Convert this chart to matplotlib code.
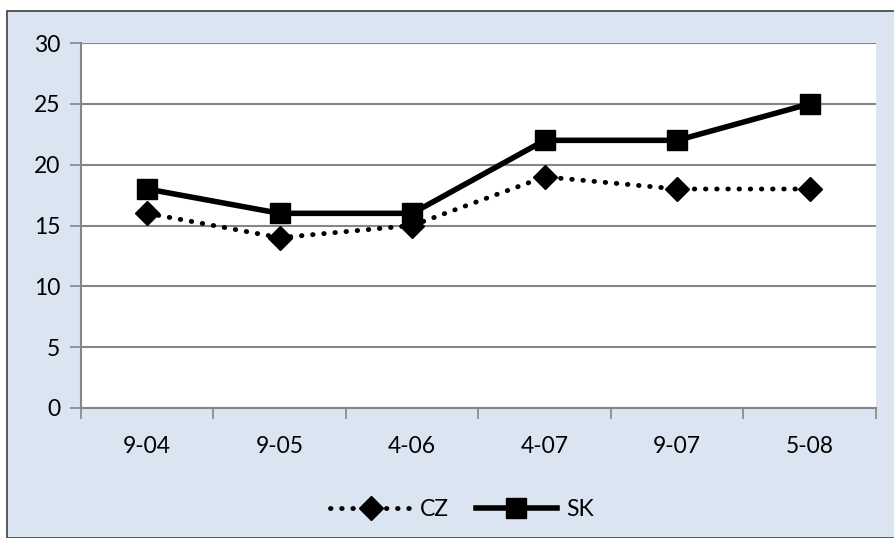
import matplotlib.pyplot as plt
from matplotlib.patches import Rectangle

periods = ['9-04', '9-05', '4-06', '4-07', '9-07', '5-08']
cz = [16, 14, 15, 19, 18, 18]
sk = [18, 16, 16, 22, 22, 25]

plt.rcParams['font.family'] = ['Lato', 'DejaVu Sans']

fig = plt.figure(figsize=(8.95, 5.38), dpi=100)
fig.patch.set_facecolor('white')
# light blue chart area with a dark frame
frame = Rectangle((7 / 895, 0), 1, 1 - 11 / 538, transform=fig.transFigure,
                  facecolor='#dbe5f1', edgecolor='#404040', linewidth=1.2, zorder=-1)
fig.add_artist(frame)

ax = fig.add_axes([81 / 895, 1 - 408 / 538, (876 - 81) / 895, (408 - 43) / 538])
ax.set_zorder(1)
ax.set_facecolor('white')

x = list(range(len(periods)))
ax.plot(x, cz, color='black', linestyle=(0, (0.1, 2.2)), dash_capstyle='round',
        linewidth=3.5, marker='D', markersize=12, label='CZ', zorder=3)
ax.plot(x, sk, color='black', linestyle='-', linewidth=4, marker='s',
        markersize=15, label='SK', zorder=4)

ax.set_ylim(0, 30)
ax.set_yticks(range(0, 31, 5))
ax.set_xlim(-0.5, len(periods) - 0.5)
ax.set_xticks(x)
ax.set_xticklabels(periods)
ax.set_xticks([i - 0.5 for i in range(len(periods) + 1)], minor=True)
ax.grid(axis='y', color='#868686', linewidth=1.5, zorder=1)
ax.set_axisbelow(True)

for side in ['top', 'right']:
    ax.spines[side].set_visible(False)
for side in ['left', 'bottom']:
    ax.spines[side].set_color('#868686')
    ax.spines[side].set_linewidth(1.5)

ax.tick_params(axis='x', which='major', length=0, pad=20, labelsize=16.5)
ax.tick_params(axis='x', which='minor', length=8, width=1.2, color='#868686', direction='out')
ax.tick_params(axis='y', length=8, width=1.2, color='#868686', pad=7, labelsize=16.5)

leg = fig.legend(loc='center', bbox_to_anchor=(462 / 895, 1 - 510 / 538), ncol=2, frameon=False,
                 fontsize=16.5, handlelength=3.5, columnspacing=1.2, handletextpad=0.4)
leg.set_zorder(2)

fig.savefig('out.png', dpi=100)
